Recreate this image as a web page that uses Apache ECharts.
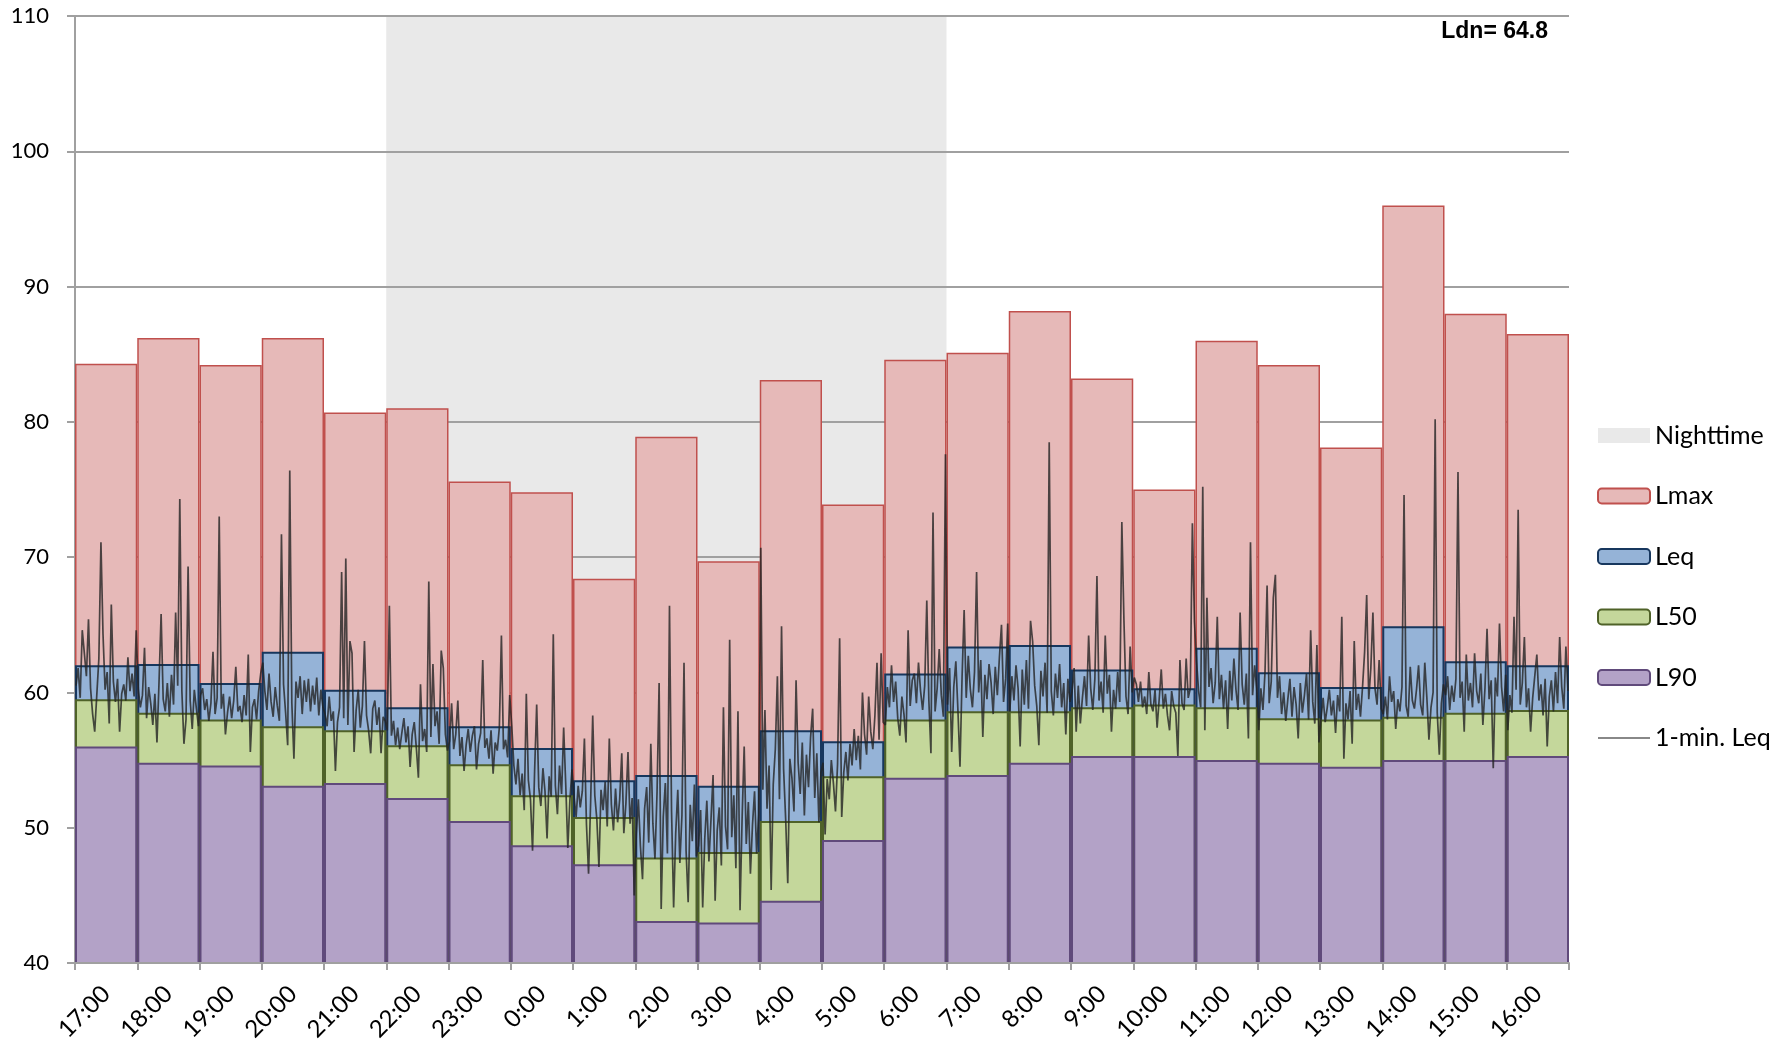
<!DOCTYPE html>
<html>
<head>
<meta charset="utf-8">
<script src="https://cdn.jsdelivr.net/npm/echarts@6/dist/echarts.min.js"></script>
<style>
  html, body { margin: 0; padding: 0; background: #ffffff; }
  #chart { width: 1789px; height: 1045px; }
</style>
</head>
<body>
<div id="chart"></div>
<script>
// Hour bins, starting at 17:00 and running for 24 hours
const hourLabels = ['17:00','18:00','19:00','20:00','21:00','22:00','23:00','0:00','1:00','2:00','3:00','4:00',
                    '5:00','6:00','7:00','8:00','9:00','10:00','11:00','12:00','13:00','14:00','15:00','16:00'];

// Hourly statistics, dB(A)
const lmax = [84.3, 86.2, 84.2, 86.2, 80.7, 81.0, 75.6, 74.8, 68.4, 78.9, 69.7, 83.1,
              73.9, 84.6, 85.1, 88.2, 83.2, 75.0, 86.0, 84.2, 78.1, 96.0, 88.0, 86.5];
const leq  = [62.0, 62.1, 60.7, 63.0, 60.2, 58.9, 57.5, 55.9, 53.5, 53.9, 53.1, 57.2,
              56.4, 61.4, 63.4, 63.5, 61.7, 60.3, 63.3, 61.5, 60.4, 64.9, 62.3, 62.0];
const l50  = [59.5, 58.5, 58.0, 57.5, 57.2, 56.1, 54.7, 52.4, 50.8, 47.8, 48.2, 50.5,
              53.8, 58.0, 58.6, 58.6, 58.9, 59.1, 58.9, 58.1, 58.0, 58.2, 58.5, 58.7];
const l90  = [56.0, 54.8, 54.6, 53.1, 53.3, 52.2, 50.5, 48.7, 47.3, 43.1, 43.0, 44.6,
              49.1, 53.7, 53.9, 54.8, 55.3, 55.3, 55.0, 54.8, 54.5, 55.0, 55.0, 55.3];

// 1 = nighttime hour (22:00 through 6:59)
const nighttime = [0,0,0,0,0,1,1,1,1,1,1,1,1,1,0,0,0,0,0,0,0,0,0,0];

// Day-night level
const ldn = 64.8;

// Short-interval Leq samples, one row per hour (30 samples per hour)
const oneMinLeq = [
  [60.5,61.8,59.6,64.6,62.9,61.2,65.4,60.3,58.4,57.1,59.8,62.5,71.1,64.3,60.2,61.5,57.7,66.5,60.8,59.3,61.0,57.1,59.9,60.6,59.4,62.6,60.1,61.4,59.7,64.6],
  [60.2,58.9,59.8,63.3,58.1,60.4,59.2,57.6,59.9,56.3,60.8,65.8,59.5,58.6,60.7,58.2,61.3,59.1,65.9,60.5,74.3,60.1,56.2,58.0,69.3,59.4,57.3,60.2,58.8,57.5],
  [59.8,60.3,58.7,59.5,57.9,59.2,63.0,58.4,59.6,73.0,58.8,59.9,56.9,58.5,59.7,58.1,59.4,61.9,58.6,59.0,57.8,59.8,58.3,62.8,55.6,58.9,59.5,58.0,60.1,61.4],
  [62.2,60.1,58.7,61.4,59.3,58.2,60.4,59.0,57.9,71.7,60.6,58.5,56.1,76.4,59.2,55.1,60.8,59.6,61.2,58.4,60.9,59.3,61.0,58.6,60.5,59.1,61.1,58.3,60.2,58.9],
  [58.4,57.5,59.7,57.9,58.6,54.2,57.8,58.9,68.9,58.1,69.9,57.6,63.8,62.9,55.6,58.7,60.2,57.4,59.0,63.8,58.3,57.2,55.5,58.8,59.4,57.6,58.9,55.5,58.2,57.9],
  [57.2,66.4,56.8,57.9,56.1,57.4,55.8,57.0,58.1,56.3,57.5,54.5,56.9,57.8,55.9,53.7,60.6,56.4,57.3,55.6,68.2,56.7,62.1,57.5,58.6,56.2,63.1,61.8,56.9,55.7],
  [56.4,59.2,55.8,56.9,59.4,55.3,56.7,54.2,56.1,57.3,55.6,56.8,57.5,54.3,56.2,57.0,62.4,55.9,56.6,55.1,57.2,54.0,56.3,55.7,57.4,64.2,55.8,56.5,55.2,59.8],
  [57.5,54.6,53.2,55.1,52.4,54.0,51.3,59.9,53.5,52.1,48.3,54.2,59.1,53.0,51.6,54.4,52.7,49.2,53.8,52.3,64.3,53.1,51.0,54.6,52.5,57.4,53.2,48.5,52.0,54.3],
  [52.3,50.8,53.1,51.5,52.7,56.6,50.2,46.6,51.9,58.3,52.4,50.6,47.1,52.8,51.3,53.4,50.1,56.6,51.7,49.8,52.9,50.4,52.1,55.5,49.6,51.8,55.6,50.3,52.2,45.0],
  [49.5,52.1,48.6,46.2,51.4,53.0,48.9,56.2,50.3,47.7,52.6,60.7,44.0,50.8,53.3,48.1,66.4,51.2,44.1,49.6,52.8,47.4,50.9,62.2,48.3,44.5,51.7,49.0,53.2,47.9],
  [48.7,51.3,44.1,49.2,52.0,47.5,50.6,53.9,44.6,49.8,51.5,47.2,58.9,50.1,48.4,63.9,49.3,52.4,47.0,58.6,43.9,50.7,56.0,48.8,51.9,46.6,50.2,52.7,48.1,51.0],
  [70.7,52.8,58.7,51.4,54.6,45.4,53.2,55.8,61.2,52.1,64.9,54.3,50.6,45.9,55.1,53.7,51.2,60.9,54.8,52.5,56.3,50.9,55.4,53.0,56.7,58.8,52.2,55.5,50.4,54.1],
  [54.8,49.5,53.6,52.1,55.0,53.3,51.2,54.7,64.0,50.8,54.1,55.6,53.5,56.2,54.6,57.3,55.0,56.8,54.3,60.0,56.9,55.4,59.7,57.1,55.8,58.3,62.2,56.5,62.9,57.8],
  [57.6,60.4,58.9,62.0,59.3,60.8,58.1,56.8,59.7,58.4,56.3,64.6,59.0,60.9,61.4,59.2,62.2,60.1,58.7,60.5,66.8,59.4,55.5,73.3,58.6,60.3,63.2,59.8,58.2,77.6],
  [59.1,61.8,55.6,60.4,62.3,58.7,54.5,61.1,66.1,59.6,62.7,60.2,58.9,61.5,68.9,60.0,62.4,56.7,61.3,59.5,62.1,60.7,58.4,61.9,59.8,62.6,65.0,59.3,61.0,65.1],
  [58.6,61.2,59.4,62.0,60.3,56.0,61.7,59.1,62.4,58.8,65.3,63.8,60.5,59.0,56.1,61.6,59.7,62.2,58.5,78.5,60.1,58.3,61.4,59.6,62.1,58.9,60.7,56.9,61.0,59.3],
  [60.1,61.8,57.1,60.5,57.7,59.6,61.2,59.0,64.2,60.3,58.7,61.0,68.6,59.4,60.8,58.5,64.2,59.9,61.3,57.1,60.2,58.8,61.5,59.3,72.6,65.4,59.7,58.4,63.4,60.0],
  [61.1,60.6,59.3,60.8,58.9,59.7,58.4,61.5,59.1,58.6,60.2,57.4,59.5,61.7,58.8,59.9,58.3,57.2,60.1,59.0,58.5,55.3,62.4,59.2,58.7,62.5,59.6,60.3,72.5,65.2],
  [62.3,60.1,58.9,75.2,57.2,67.0,60.4,61.8,59.2,60.7,65.6,59.5,61.3,58.8,60.9,57.3,61.6,59.4,62.5,60.2,58.7,65.9,60.6,59.1,61.4,56.6,71.1,59.8,62.0,60.3],
  [57.2,60.3,58.7,61.5,67.9,59.2,60.8,67.0,68.7,59.6,61.2,58.4,60.0,57.9,59.5,61.0,58.2,60.4,59.1,56.6,60.7,58.5,59.8,61.4,58.0,64.6,59.3,57.7,63.5,56.3],
  [58.1,59.6,57.8,58.9,60.2,58.3,59.4,57.0,59.8,58.6,65.6,55.1,59.2,58.0,60.1,56.2,63.8,58.7,59.9,58.2,60.4,63.0,67.2,59.5,61.8,65.9,60.3,59.1,62.4,58.8],
  [58.4,59.7,58.0,61.2,59.3,60.1,57.3,59.5,58.6,60.4,74.6,59.0,58.2,61.9,59.4,58.8,60.2,62.0,59.1,58.3,62.2,59.6,56.5,58.9,60.0,80.2,58.5,55.4,59.2,60.6],
  [59.8,61.2,58.7,60.5,59.3,61.0,76.3,59.6,60.8,57.1,62.8,59.4,60.7,58.9,62.9,60.1,59.2,61.4,57.6,60.3,64.7,59.5,60.9,54.4,61.1,59.7,65.1,60.4,58.6,61.3],
  [57.2,59.8,58.5,65.6,60.2,73.5,59.1,60.7,64.1,58.9,60.3,57.1,59.6,61.2,62.8,59.4,60.6,58.3,61.0,56.0,59.7,60.9,58.6,61.5,59.2,64.1,60.4,58.8,63.4,60.1]
];

const yMin = 40, yMax = 110;

// Place each sample at its time within the hour (hours since 17:00)
const minuteSeries = [];
oneMinLeq.forEach(function (row, h) {
  row.forEach(function (v, i) {
    minuteSeries.push([h + (i + 0.5) / row.length, v]);
  });
});

// Nighttime band as one continuous span on the hour axis
const nightIdx = nighttime.map(function (f, i) { return f ? i : -1; }).filter(function (i) { return i >= 0; });
const nightBand = [[nightIdx[0], yMax], [nightIdx[nightIdx.length - 1] + 1, yMax]];

const axisGrey = '#a0a0a0';
const nightGrey = '#e9e9e9';
const chart = echarts.init(document.getElementById('chart'), null, { renderer: 'canvas' });

function barSeries(name, data, fill, border, width) {
  return {
    name: name,
    type: 'bar',
    xAxisIndex: 0,
    yAxisIndex: 0,
    barWidth: '100%',
    barGap: '-100%',
    z: 2,
    itemStyle: { color: fill, borderColor: border, borderWidth: width },
    emphasis: { disabled: true },
    data: data
  };
}

chart.setOption({
  animation: false,
  backgroundColor: '#ffffff',
  title: {
    text: 'Ldn= ' + ldn.toFixed(1),
    right: 241,
    top: 20,
    padding: 0,
    textStyle: {
      fontFamily: 'Liberation Sans',
      fontWeight: 'bold',
      fontSize: 23,
      color: '#000000'
    }
  },
  grid: { left: 75, right: 220, top: 16, bottom: 82, containLabel: false },
  legend: {
    orient: 'vertical',
    left: 1597,
    top: 423,
    padding: 0,
    itemWidth: 52,
    itemHeight: 15,
    itemGap: 35.5,
    data: [
      { name: 'Nighttime', icon: 'rect' },
      'Lmax', 'Leq', 'L50', 'L90',
      { name: '1-min. Leq', icon: 'path://M0,0L52,0L52,1.6L0,1.6Z' }
    ],
    textStyle: { fontFamily: 'Lato', fontSize: 25, color: '#000000' }
  },
  xAxis: [
    {
      type: 'category',
      data: hourLabels,
      boundaryGap: true,
      z: 3,
      axisLine: { show: true, lineStyle: { color: axisGrey, width: 2 } },
      axisTick: { show: true, length: 7, lineStyle: { color: axisGrey, width: 2 } },
      axisLabel: {
        interval: 0,
        rotate: 45,
        margin: 27,
        fontFamily: 'Lato',
        fontSize: 24,
        color: '#000000'
      },
      splitLine: { show: false }
    },
    {
      type: 'value',
      min: 0,
      max: 24,
      show: false
    }
  ],
  yAxis: {
    type: 'value',
    min: yMin,
    max: yMax,
    interval: 10,
    z: 1,
    axisLine: { show: true, lineStyle: { color: axisGrey, width: 2 } },
    axisTick: { show: true, length: 8, lineStyle: { color: axisGrey, width: 2 } },
    axisLabel: { margin: 26, fontFamily: 'Lato', fontSize: 22, color: '#000000' },
    splitLine: { show: true, lineStyle: { color: axisGrey, width: 2 } }
  },
  series: [
    {
      name: 'Nighttime',
      type: 'line',
      xAxisIndex: 1,
      yAxisIndex: 0,
      z: 0,
      silent: true,
      symbol: 'none',
      lineStyle: { width: 0, color: nightGrey },
      itemStyle: { color: nightGrey },
      areaStyle: { color: nightGrey, opacity: 1, origin: 'start' },
      data: nightBand
    },
    barSeries('Lmax', lmax, '#e6b9b8', '#c0504d', 1.5),
    barSeries('Leq',  leq,  '#95b3d7', '#17375e', 2),
    barSeries('L50',  l50,  '#c4d79b', '#4f6228', 2),
    barSeries('L90',  l90,  '#b3a2c7', '#604a7b', 2),
    {
      name: '1-min. Leq',
      type: 'line',
      xAxisIndex: 1,
      yAxisIndex: 0,
      z: 5,
      symbol: 'none',
      silent: true,
      lineStyle: { color: 'rgba(35,35,35,0.8)', width: 1.7 },
      itemStyle: { color: '#606060' },
      data: minuteSeries
    }
  ]
});
</script>
</body>
</html>
